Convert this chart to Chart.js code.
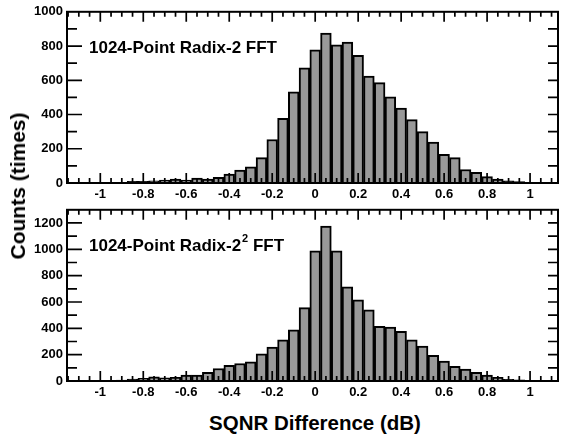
<!DOCTYPE html>
<html><head><meta charset="utf-8">
<script src="https://cdn.jsdelivr.net/npm/chart.js@4/dist/chart.umd.min.js"></script>
<style>
html,body{margin:0;padding:0;background:#fff;}
#wrap{position:relative;width:563px;height:436px;overflow:hidden;font-family:"Liberation Sans",Arial,sans-serif;color:#000;}
canvas{position:absolute;left:0;}
#c1{top:0;}
#c2{top:198px;}
.ytitle{position:absolute;left:18px;top:186px;transform:translate(-50%,-50%) rotate(-90deg);font-weight:bold;font-size:21px;white-space:nowrap;}
.xtitle{position:absolute;left:315px;top:423px;transform:translate(-50%,-50%);font-weight:bold;font-size:20.5px;white-space:nowrap;}
</style></head>
<body>
<div id="wrap">
<canvas id="c1" width="563" height="200"></canvas>
<canvas id="c2" width="563" height="200"></canvas>
<div class="ytitle">Counts (times)</div>
<div class="xtitle">SQNR Difference (dB)</div>
</div>
<script>
// bin centres (dB)
const binCenters = [-0.95,-0.9,-0.85,-0.8,-0.75,-0.7,-0.65,-0.6,-0.55,-0.5,-0.45,-0.4,-0.35,-0.3,-0.25,-0.2,-0.15,-0.1,-0.05,0,
  0.05,0.1,0.15,0.2,0.25,0.3,0.35,0.4,0.45,0.5,0.55,0.6,0.65,0.7,0.75,0.8,0.85,0.9,0.95,1.0,1.05];
// 1024-Point Radix-2 FFT counts
const radix2Counts = [0,4,10,10,13,17,23,17,29,23,33,52,76,94,148,254,378,532,672,778,
  875,807,823,746,624,586,503,437,370,300,239,168,148,79,62,37,23,12,8,2,0];
// 1024-Point Radix-2^2 FFT counts
const radix22Counts = [3,7,15,20,32,25,28,45,45,65,95,119,133,145,207,257,313,388,557,988,
  1177,988,715,616,540,416,410,377,312,265,195,152,112,90,65,45,28,13,8,3,2];
// axis ticks
const xTickValues = [-1,-0.8,-0.6,-0.4,-0.2,0,0.2,0.4,0.6,0.8,1];
const xTickLabels = ['-1','-0.8','-0.6','-0.4','-0.2','0','0.2','0.4','0.6','0.8','1'];
const yTicksTop = [0,200,400,600,800,1000];
const yTicksBottom = [0,200,400,600,800,1000,1200];
const panelTitleTop = ['1024-Point Radix-2', '', ' FFT'];
const panelTitleBottom = ['1024-Point Radix-2', '2', ' FFT'];

Chart.defaults.font.family = '"Liberation Sans", Arial, sans-serif';
Chart.defaults.color = '#000';

const FONT = '"Liberation Sans", Arial, sans-serif';

const framePlugin = {
  id: 'frame',
  afterDatasetsDraw(chart, args, opts) {
    const {ctx, chartArea: a, scales: {x, y}} = chart;
    ctx.save();
    ctx.strokeStyle = '#000';
    ctx.lineWidth = 1.7;
    ctx.beginPath();
    for (let k = -23; k <= 23; k++) {
      const v = k * 0.05;
      const px = x.getPixelForValue(v);
      if (px < a.left + 1 || px > a.right - 1) continue;
      const major = (k % 4 === 0);
      const len = major ? 10 : 5;
      ctx.moveTo(px, a.bottom); ctx.lineTo(px, a.bottom - len);
      ctx.moveTo(px, a.top); ctx.lineTo(px, a.top + len);
    }
    for (let v = 100; v < y.max; v += 100) {
      const py = y.getPixelForValue(v);
      const major = (v % 200 === 0);
      ctx.moveTo(a.left, py); ctx.lineTo(a.left + (major ? 15 : 10), py);
      ctx.moveTo(a.right, py); ctx.lineTo(a.right - 10, py);
    }
    ctx.stroke();
    ctx.lineWidth = 2;
    ctx.strokeRect(a.left, a.top, a.right - a.left, a.bottom - a.top);
    // panel label
    const parts = opts.parts;
    ctx.fillStyle = '#000';
    ctx.textBaseline = 'alphabetic';
    ctx.textAlign = 'left';
    let tx = a.left + 22, ty = a.top + 41;
    ctx.font = 'bold 17px ' + FONT;
    ctx.fillText(parts[0], tx, ty);
    tx += ctx.measureText(parts[0]).width;
    if (parts[1]) {
      ctx.font = 'bold 11px ' + FONT;
      ctx.fillText(parts[1], tx + 1, ty - 9);
      tx += ctx.measureText(parts[1]).width + 1;
    }
    ctx.font = 'bold 17px ' + FONT;
    ctx.fillText(parts[2], tx, ty);
    ctx.restore();
  }
};

function makeChart(id, counts, yMax, yTicks, parts) {
  return new Chart(document.getElementById(id), {
    type: 'bar',
    data: {
      datasets: [{
        data: binCenters.map((c, i) => ({x: c, y: counts[i]})),
        backgroundColor: '#999999',
        borderColor: '#000000',
        borderWidth: 2,
        borderSkipped: 'start',
        barPercentage: 1.0,
        categoryPercentage: 1.0,
        grouped: false
      }]
    },
    options: {
      responsive: false,
      animation: false,
      layout: {padding: {top: 10, right: 5, left: 0, bottom: 0}},
      plugins: {legend: {display: false}, tooltip: {enabled: false}, frame: {parts: parts}},
      scales: {
        x: {
          type: 'linear', min: -1.155, max: 1.13, offset: false,
          grid: {display: false, drawTicks: false}, border: {display: false},
          afterBuildTicks: s => { s.ticks = xTickValues.map(v => ({value: v})); },
          afterFit: s => { s.height = 17; },
          ticks: {padding: 4, font: {size: 13, weight: 'bold'}, color: '#000', maxRotation: 0, autoSkip: false,
            callback: (v, i) => xTickLabels[i]}
        },
        y: {
          type: 'linear', min: 0, max: yMax,
          grid: {display: false, drawTicks: false}, border: {display: false},
          afterBuildTicks: s => { s.ticks = yTicks.map(v => ({value: v})); },
          afterFit: s => { s.width = 67; },
          ticks: {padding: 4, font: {size: 13, weight: 'bold'}, color: '#000', autoSkip: false,
            callback: v => String(v)}
        }
      }
    },
    plugins: [framePlugin]
  });
}

makeChart('c1', radix2Counts, 1000, yTicksTop, panelTitleTop);
makeChart('c2', radix22Counts, 1300, yTicksBottom, panelTitleBottom);
</script>
</body></html>
